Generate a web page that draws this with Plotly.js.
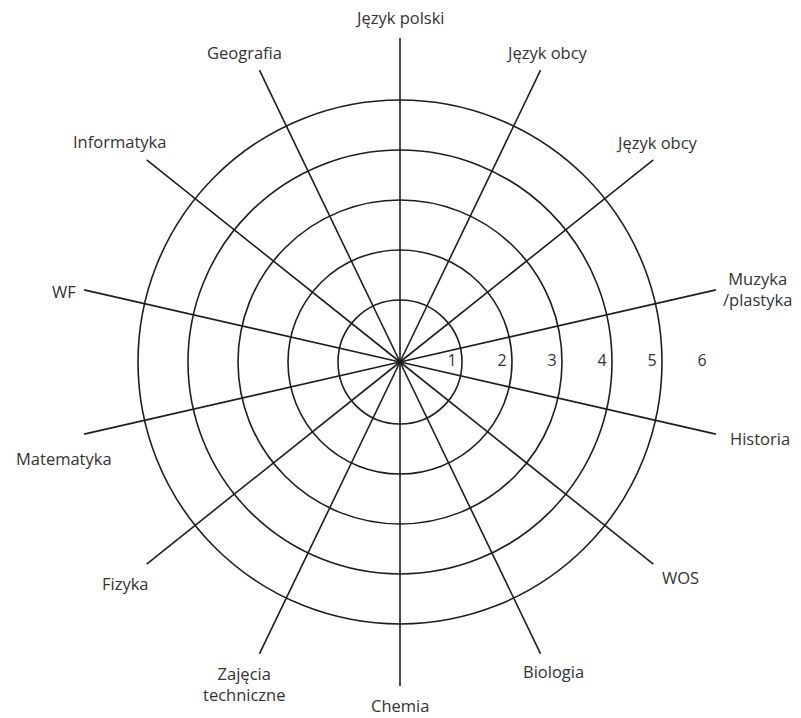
<!DOCTYPE html>
<html>
<head>
<meta charset="utf-8">
<script src="https://cdn.plot.ly/plotly-3.0.1.min.js"></script>
<style>html,body{margin:0;padding:0;background:#fff;}#chart{width:801px;height:718px;}</style>
</head>
<body>
<div id="chart"></div>
<script>
const categories = ['Język polski', 'Język obcy', 'Język obcy', 'Muzyka<br>/plastyka', 'Historia', 'WOS', 'Biologia', 'Chemia', 'Zajęcia<br>techniczne', 'Fizyka', 'Matematyka', 'WF', 'Informatyka', 'Geografia'];
const ringValues = [1, 2, 3, 4, 5];
const scaleLabels = ['1', '2', '3', '4', '5', '6'];
const scaleLabelValues = [1, 2, 3, 4, 5, 6];

// ---- layout / style configuration (not data) ----
const W = 801, H = 718;
const cx = 400, cy = 362, R = 324;
const FONT = 'Open Sans, Noto Sans, sans-serif';
// offset (px) of each category label's centre from the end of its spoke
const labelNudge = [[0, -20], [6, -18], [4, -17], [42, -1], [44, 4], [27, 13], [13, 18],
                    [0, 19], [-15, 30], [-21, 19], [-20, 24], [-20, 2], [-27, -18], [-15, -18]];

const step = 360 / categories.length;
const angles = categories.map((c, i) => i * step);

const labelTrace = {
  type: 'scatterpolar',
  mode: 'text',
  r: scaleLabelValues.map(v => v - 0.2),
  theta: scaleLabelValues.map(() => 90),
  text: scaleLabels,
  textfont: {family: FONT, size: 16, color: '#333'},
  hoverinfo: 'skip',
  showlegend: false
};

const annotations = categories.map((c, i) => {
  const a = angles[i] * Math.PI / 180;
  const px = cx + R * Math.sin(a) + labelNudge[i][0];
  const py = cy - R * Math.cos(a) + labelNudge[i][1];
  return {
    text: c, showarrow: false,
    xref: 'paper', yref: 'paper',
    x: px / W, y: 1 - py / H,
    xanchor: 'center', yanchor: 'middle', align: 'center',
    font: {family: FONT, size: 16.5, color: '#333'}
  };
});

const layout = {
  width: W, height: H,
  margin: {l: 0, r: 0, t: 0, b: 0},
  paper_bgcolor: '#fff',
  showlegend: false,
  font: {family: FONT, size: 16, color: '#333'},
  annotations: annotations,
  polar: {
    domain: {x: [(cx - R) / W, (cx + R) / W], y: [(H - cy - R) / H, (H - cy + R) / H]},
    bgcolor: 'rgba(0,0,0,0)',
    radialaxis: {
      range: [-0.24, 6.24],
      tickmode: 'array', tickvals: ringValues,
      showticklabels: false, ticks: '',
      showline: false,
      showgrid: true, gridcolor: '#1e1e1e', gridwidth: 1.6
    },
    angularaxis: {
      type: 'linear', thetaunit: 'degrees',
      rotation: 90, direction: 'clockwise',
      tickmode: 'array', tickvals: angles, ticktext: categories,
      showticklabels: false, ticks: '',
      showline: false,
      showgrid: true, gridcolor: '#1e1e1e', gridwidth: 1.6
    }
  }
};

Plotly.newPlot('chart', [labelTrace], layout, {displayModeBar: false, staticPlot: true});
</script>
</body>
</html>
